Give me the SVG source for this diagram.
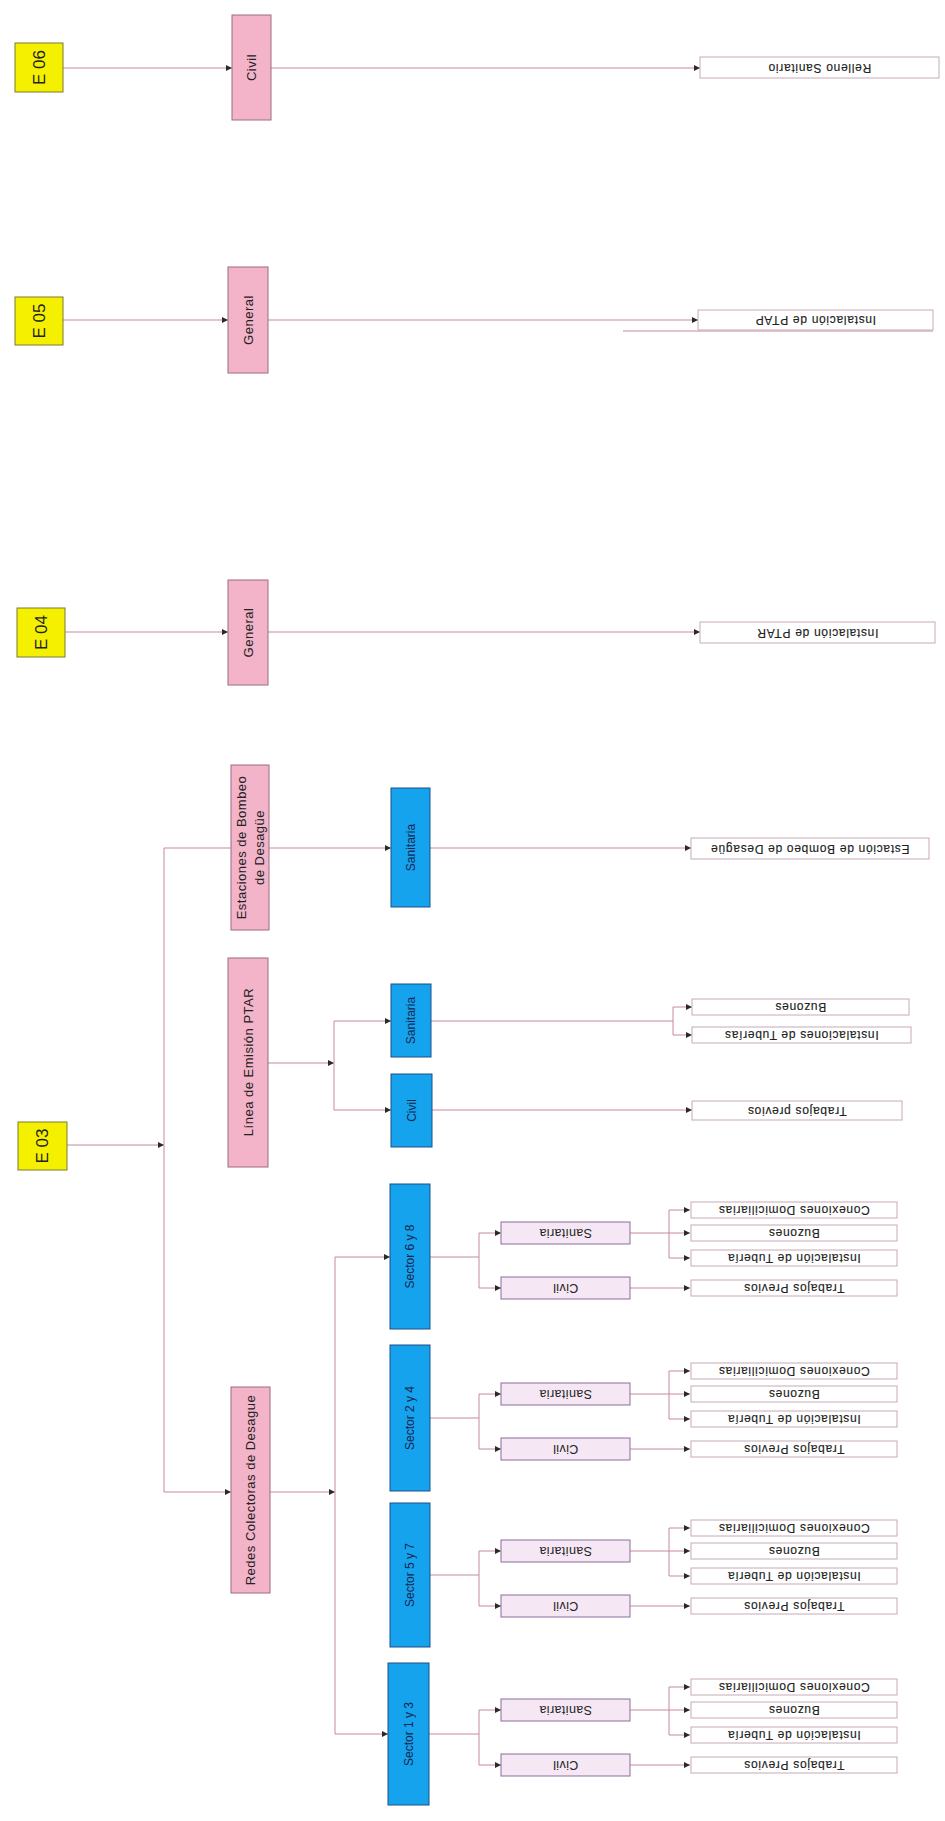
<svg xmlns="http://www.w3.org/2000/svg" width="945" height="1821" viewBox="0 0 945 1821">
<style>
text{font-family:"Liberation Sans",Arial,sans-serif;fill:#222;text-anchor:middle;dominant-baseline:central}
.y{fill:#f5f000;stroke:#7a7a30;stroke-width:1}
.p{fill:#f3b3c8;stroke:#9c6c7c;stroke-width:1}
.b{fill:#15a3ee;stroke:#1c4e8a;stroke-width:1}
.s{fill:#f5e7f4;stroke:#8c6c9c;stroke-width:1}
.l{fill:#fff;stroke:#c8a8b8;stroke-width:1}
.ty{font-size:17px}
.tp{font-size:13px;letter-spacing:0.5px}
.tb{font-size:12px;fill:#14264e}
.ts{font-size:12.5px;letter-spacing:0.4px}
.tl{font-size:12px;letter-spacing:0.7px;stroke:#222;stroke-width:0.15px}
#conn line{stroke:#c58aa0;stroke-width:1;fill:none}
#conn line.a{marker-end:url(#ah)}
</style>
<defs>
<marker id="ah" viewBox="0 0 6 6" refX="6" refY="3" markerWidth="6" markerHeight="6" markerUnits="userSpaceOnUse" orient="auto"><path d="M0,0L6,3L0,6z" fill="#2a2a2a"/></marker>
</defs>
<rect width="945" height="1821" fill="#fff"/>

<g id="conn">
<line class="a" x1="63" y1="68" x2="232" y2="68"/>
<line class="a" x1="271" y1="68" x2="700" y2="68"/>
<line class="a" x1="63" y1="320" x2="228" y2="320"/>
<line class="a" x1="268" y1="320" x2="698" y2="320"/>
<line x1="623" y1="331" x2="933" y2="331"/>
<line class="a" x1="65" y1="632" x2="228" y2="632"/>
<line class="a" x1="268" y1="632" x2="700" y2="632"/>
<line class="a" x1="67" y1="1145" x2="164" y2="1145"/>
<line x1="164" y1="848" x2="164" y2="1492"/>
<line x1="164" y1="848" x2="231" y2="848"/>
<line class="a" x1="269" y1="848" x2="391" y2="848"/>
<line class="a" x1="430" y1="848" x2="691" y2="848"/>
<line class="a" x1="268" y1="1063" x2="334" y2="1063"/>
<line x1="334" y1="1021" x2="334" y2="1110"/>
<line class="a" x1="334" y1="1021" x2="391" y2="1021"/>
<line class="a" x1="334" y1="1110" x2="391" y2="1110"/>
<line x1="431" y1="1021" x2="673" y2="1021"/>
<line x1="673" y1="1007" x2="673" y2="1035"/>
<line class="a" x1="673" y1="1007" x2="692" y2="1007"/>
<line class="a" x1="673" y1="1035" x2="692" y2="1035"/>
<line class="a" x1="432" y1="1110" x2="692" y2="1110"/>
<line class="a" x1="164" y1="1492" x2="231" y2="1492"/>
<line class="a" x1="270" y1="1492" x2="335" y2="1492"/>
<line x1="335" y1="1257" x2="335" y2="1734"/>
<line class="a" x1="335" y1="1257" x2="390" y2="1257"/>
<line class="a" x1="335" y1="1734" x2="388" y2="1734"/>
<line x1="430" y1="1257" x2="479" y2="1257"/>
<line x1="479" y1="1233" x2="479" y2="1288"/>
<line class="a" x1="479" y1="1233" x2="501" y2="1233"/>
<line class="a" x1="479" y1="1288" x2="501" y2="1288"/>
<line x1="630" y1="1233" x2="669" y2="1233"/>
<line x1="669" y1="1210" x2="669" y2="1258"/>
<line class="a" x1="669" y1="1210" x2="690" y2="1210"/>
<line class="a" x1="669" y1="1233" x2="690" y2="1233"/>
<line class="a" x1="669" y1="1258" x2="690" y2="1258"/>
<line class="a" x1="630" y1="1288" x2="690" y2="1288"/>
<line x1="430" y1="1418" x2="479" y2="1418"/>
<line x1="479" y1="1394" x2="479" y2="1449"/>
<line class="a" x1="479" y1="1394" x2="501" y2="1394"/>
<line class="a" x1="479" y1="1449" x2="501" y2="1449"/>
<line x1="630" y1="1394" x2="669" y2="1394"/>
<line x1="669" y1="1371" x2="669" y2="1419"/>
<line class="a" x1="669" y1="1371" x2="690" y2="1371"/>
<line class="a" x1="669" y1="1394" x2="690" y2="1394"/>
<line class="a" x1="669" y1="1419" x2="690" y2="1419"/>
<line class="a" x1="630" y1="1449" x2="690" y2="1449"/>
<line x1="430" y1="1575" x2="479" y2="1575"/>
<line x1="479" y1="1551" x2="479" y2="1606"/>
<line class="a" x1="479" y1="1551" x2="501" y2="1551"/>
<line class="a" x1="479" y1="1606" x2="501" y2="1606"/>
<line x1="630" y1="1551" x2="669" y2="1551"/>
<line x1="669" y1="1528" x2="669" y2="1576"/>
<line class="a" x1="669" y1="1528" x2="690" y2="1528"/>
<line class="a" x1="669" y1="1551" x2="690" y2="1551"/>
<line class="a" x1="669" y1="1576" x2="690" y2="1576"/>
<line class="a" x1="630" y1="1606" x2="690" y2="1606"/>
<line x1="429" y1="1734" x2="479" y2="1734"/>
<line x1="479" y1="1710" x2="479" y2="1765"/>
<line class="a" x1="479" y1="1710" x2="501" y2="1710"/>
<line class="a" x1="479" y1="1765" x2="501" y2="1765"/>
<line x1="630" y1="1710" x2="669" y2="1710"/>
<line x1="669" y1="1687" x2="669" y2="1735"/>
<line class="a" x1="669" y1="1687" x2="690" y2="1687"/>
<line class="a" x1="669" y1="1710" x2="690" y2="1710"/>
<line class="a" x1="669" y1="1735" x2="690" y2="1735"/>
<line class="a" x1="630" y1="1765" x2="690" y2="1765"/>
</g>

<g id="e06"><rect class="y" x="15" y="43" width="48" height="49"/><text class="ty" x="39" y="67.5" transform="rotate(-90 39 67.5)">E 06</text></g>
<g id="e06-civil"><rect class="p" x="232" y="15" width="39" height="105"/><text class="tp" x="251.5" y="67.5" transform="rotate(-90 251.5 67.5)">Civil</text></g>
<g id="e06-relleno"><rect class="l" x="700" y="57" width="239" height="21"/><text class="tl" x="819.5" y="67.5" transform="rotate(180 819.5 67.5)">Relleno Sanitario</text></g>

<g id="e05"><rect class="y" x="15" y="297" width="48" height="48"/><text class="ty" x="39" y="321" transform="rotate(-90 39 321)">E 05</text></g>
<g id="e05-general"><rect class="p" x="228" y="267" width="40" height="106"/><text class="tp" x="248" y="320" transform="rotate(-90 248 320)">General</text></g>
<g id="e05-ptap"><rect class="l" x="698" y="310" width="235" height="20"/><text class="tl" x="815.5" y="320" transform="rotate(180 815.5 320)">Instalación de PTAP</text></g>

<g id="e04"><rect class="y" x="17" y="608" width="48" height="49"/><text class="ty" x="41" y="632.5" transform="rotate(-90 41 632.5)">E 04</text></g>
<g id="e04-general"><rect class="p" x="228" y="580" width="40" height="105"/><text class="tp" x="248" y="632.5" transform="rotate(-90 248 632.5)">General</text></g>
<g id="e04-ptar"><rect class="l" x="700" y="622" width="235" height="21"/><text class="tl" x="817.5" y="632.5" transform="rotate(180 817.5 632.5)">Instalación de PTAR</text></g>

<g id="e03"><rect class="y" x="18" y="1122" width="49" height="48"/><text class="ty" x="42.5" y="1146" transform="rotate(-90 42.5 1146)">E 03</text></g>

<g id="estaciones"><rect class="p" x="231" y="765" width="38" height="165"/>
<text class="tp" transform="rotate(-90 250 847.5)"><tspan x="250" y="838.5">Estaciones de Bombeo</tspan><tspan x="250" y="856.5">de Desagüe</tspan></text></g>
<g id="estaciones-sanitaria"><rect class="b" x="391" y="788" width="39" height="119"/><text class="tb" x="410.5" y="847.5" transform="rotate(-90 410.5 847.5)">Sanitaria</text></g>
<g id="estaciones-leaf"><rect class="l" x="691" y="838" width="238" height="21"/><text class="tl" x="810" y="848.5" transform="rotate(180 810 848.5)">Estación de Bombeo de Desagüe</text></g>

<g id="linea"><rect class="p" x="228" y="958" width="40" height="209"/><text class="tp" x="248" y="1062" transform="rotate(-90 248 1062)">Línea de Emisión PTAR</text></g>
<g id="linea-sanitaria"><rect class="b" x="391" y="984" width="40" height="73"/><text class="tb" x="411" y="1020.5" transform="rotate(-90 411 1020.5)">Sanitaria</text></g>
<g id="linea-civil"><rect class="b" x="391" y="1074" width="41" height="73"/><text class="tb" x="411.5" y="1110.5" transform="rotate(-90 411.5 1110.5)">Civil</text></g>
<g id="linea-buzones"><rect class="l" x="692" y="999" width="217" height="16"/><text class="tl" x="800.5" y="1007" transform="rotate(180 800.5 1007)">Buzones</text></g>
<g id="linea-tuberias"><rect class="l" x="692" y="1027" width="219" height="16"/><text class="tl" x="801.5" y="1035" transform="rotate(180 801.5 1035)">Instalaciones de Tuberías</text></g>
<g id="linea-trabajos"><rect class="l" x="692" y="1101" width="210" height="19"/><text class="tl" x="797" y="1110.5" transform="rotate(180 797 1110.5)">Trabajos previos</text></g>

<g id="redes"><rect class="p" x="231" y="1387" width="39" height="206"/><text class="tp" x="250.5" y="1490" transform="rotate(-90 250.5 1490)">Redes Colectoras de Desague</text></g>

<g id="s68"><rect class="b" x="390" y="1184" width="40" height="145"/><text class="tb" x="410" y="1256.5" transform="rotate(-90 410 1256.5)">Sector 6 y 8</text></g>
<g id="s68-san"><rect class="s" x="501" y="1222" width="129" height="22"/><text class="ts" x="565.5" y="1233" transform="rotate(180 565.5 1233)">Sanitaria</text></g>
<g id="s68-civ"><rect class="s" x="501" y="1277" width="129" height="22"/><text class="ts" x="565.5" y="1288" transform="rotate(180 565.5 1288)">Civil</text></g>
<g id="s68-con"><rect class="l" x="691" y="1202" width="206" height="16"/><text class="tl" x="794" y="1210" transform="rotate(180 794 1210)">Conexiones Domiciliarias</text></g>
<g id="s68-buz"><rect class="l" x="691" y="1225" width="206" height="16"/><text class="tl" x="794" y="1233" transform="rotate(180 794 1233)">Buzones</text></g>
<g id="s68-ins"><rect class="l" x="691" y="1250" width="206" height="16"/><text class="tl" x="794" y="1258" transform="rotate(180 794 1258)">Instalación de Tubería</text></g>
<g id="s68-tra"><rect class="l" x="691" y="1280" width="206" height="16"/><text class="tl" x="794" y="1288" transform="rotate(180 794 1288)">Trabajos Previos</text></g>

<g id="s24"><rect class="b" x="390" y="1345" width="40" height="146"/><text class="tb" x="410" y="1418" transform="rotate(-90 410 1418)">Sector 2 y 4</text></g>
<g id="s24-san"><rect class="s" x="501" y="1383" width="129" height="22"/><text class="ts" x="565.5" y="1394" transform="rotate(180 565.5 1394)">Sanitaria</text></g>
<g id="s24-civ"><rect class="s" x="501" y="1438" width="129" height="22"/><text class="ts" x="565.5" y="1449" transform="rotate(180 565.5 1449)">Civil</text></g>
<g id="s24-con"><rect class="l" x="691" y="1363" width="206" height="16"/><text class="tl" x="794" y="1371" transform="rotate(180 794 1371)">Conexiones Domiciliarias</text></g>
<g id="s24-buz"><rect class="l" x="691" y="1386" width="206" height="16"/><text class="tl" x="794" y="1394" transform="rotate(180 794 1394)">Buzones</text></g>
<g id="s24-ins"><rect class="l" x="691" y="1411" width="206" height="16"/><text class="tl" x="794" y="1419" transform="rotate(180 794 1419)">Instalación de Tubería</text></g>
<g id="s24-tra"><rect class="l" x="691" y="1441" width="206" height="16"/><text class="tl" x="794" y="1449" transform="rotate(180 794 1449)">Trabajos Previos</text></g>

<g id="s57"><rect class="b" x="390" y="1503" width="40" height="144"/><text class="tb" x="410" y="1575" transform="rotate(-90 410 1575)">Sector 5 y 7</text></g>
<g id="s57-san"><rect class="s" x="501" y="1540" width="129" height="22"/><text class="ts" x="565.5" y="1551" transform="rotate(180 565.5 1551)">Sanitaria</text></g>
<g id="s57-civ"><rect class="s" x="501" y="1595" width="129" height="22"/><text class="ts" x="565.5" y="1606" transform="rotate(180 565.5 1606)">Civil</text></g>
<g id="s57-con"><rect class="l" x="691" y="1520" width="206" height="16"/><text class="tl" x="794" y="1528" transform="rotate(180 794 1528)">Conexiones Domiciliarias</text></g>
<g id="s57-buz"><rect class="l" x="691" y="1543" width="206" height="16"/><text class="tl" x="794" y="1551" transform="rotate(180 794 1551)">Buzones</text></g>
<g id="s57-ins"><rect class="l" x="691" y="1568" width="206" height="16"/><text class="tl" x="794" y="1576" transform="rotate(180 794 1576)">Instalación de Tubería</text></g>
<g id="s57-tra"><rect class="l" x="691" y="1598" width="206" height="16"/><text class="tl" x="794" y="1606" transform="rotate(180 794 1606)">Trabajos Previos</text></g>

<g id="s13"><rect class="b" x="388" y="1663" width="41" height="142"/><text class="tb" x="408.5" y="1734" transform="rotate(-90 408.5 1734)">Sector 1 y 3</text></g>
<g id="s13-san"><rect class="s" x="501" y="1699" width="129" height="22"/><text class="ts" x="565.5" y="1710" transform="rotate(180 565.5 1710)">Sanitaria</text></g>
<g id="s13-civ"><rect class="s" x="501" y="1754" width="129" height="22"/><text class="ts" x="565.5" y="1765" transform="rotate(180 565.5 1765)">Civil</text></g>
<g id="s13-con"><rect class="l" x="691" y="1679" width="206" height="16"/><text class="tl" x="794" y="1687" transform="rotate(180 794 1687)">Conexiones Domiciliarias</text></g>
<g id="s13-buz"><rect class="l" x="691" y="1702" width="206" height="16"/><text class="tl" x="794" y="1710" transform="rotate(180 794 1710)">Buzones</text></g>
<g id="s13-ins"><rect class="l" x="691" y="1727" width="206" height="16"/><text class="tl" x="794" y="1735" transform="rotate(180 794 1735)">Instalación de Tubería</text></g>
<g id="s13-tra"><rect class="l" x="691" y="1757" width="206" height="16"/><text class="tl" x="794" y="1765" transform="rotate(180 794 1765)">Trabajos Previos</text></g>
</svg>
